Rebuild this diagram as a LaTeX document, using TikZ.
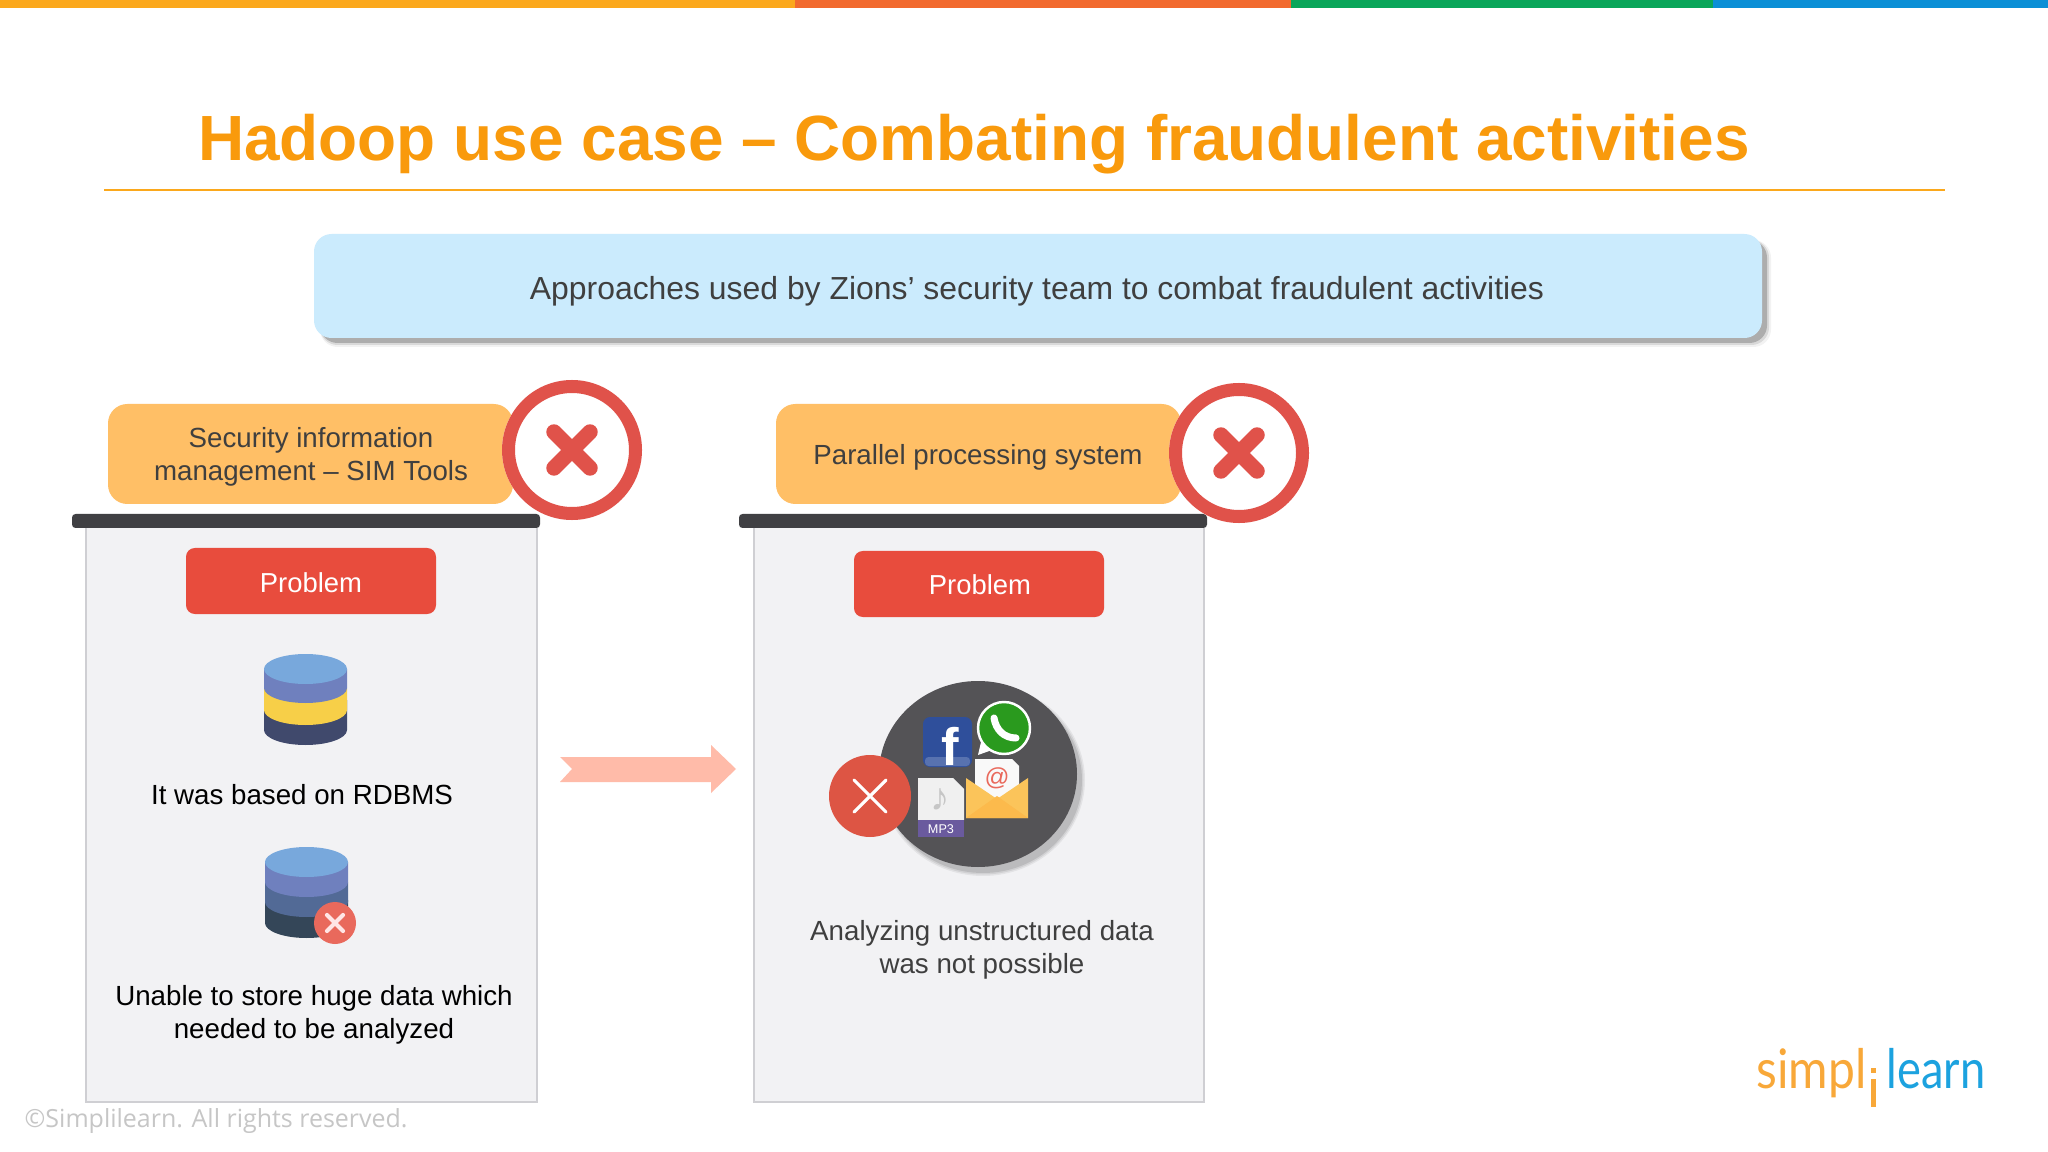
\documentclass[tikz,border=0pt]{standalone}
\usepackage{fontspec}
\setmainfont{Liberation Sans}
\newfontfamily\logofont{Lato}
\newfontfamily\copyfont{Open Sans}
\usetikzlibrary{positioning}
\definecolor{barorange}{HTML}{FBA81C}
\definecolor{bardeep}{HTML}{F26A2E}
\definecolor{bargreen}{HTML}{0AA65A}
\definecolor{barblue}{HTML}{0B8FD6}
\definecolor{titleorange}{HTML}{F99A0C}
\definecolor{skybox}{HTML}{CBEBFD}
\definecolor{tabbox}{HTML}{FFBF66}
\definecolor{crossred}{HTML}{E0524A}
\definecolor{problemred}{HTML}{E84C3D}
\definecolor{panelgray}{HTML}{F2F2F4}
\definecolor{panelline}{HTML}{CFCFD3}
\definecolor{shelfdark}{HTML}{404043}
\definecolor{textdark}{HTML}{3F3F3F}
\definecolor{arrowsalmon}{HTML}{FFBBA9}
\definecolor{dbtop}{HTML}{78A8DC}
\definecolor{dbmid}{HTML}{6F80BE}
\definecolor{dbyellow}{HTML}{F7CF48}
\definecolor{dbdark}{HTML}{40496C}
\definecolor{dbmidb}{HTML}{526A96}
\definecolor{dbdarkb}{HTML}{344658}
\definecolor{badgered}{HTML}{E9695C}
\definecolor{hubred}{HTML}{DD5544}
\definecolor{hubgray}{HTML}{545356}
\definecolor{fbblue}{HTML}{2F4F9B}
\definecolor{wagreen}{HTML}{2A9A1E}
\definecolor{mailyellow}{HTML}{FBC45A}
\definecolor{mp3purple}{HTML}{6A5A9E}
\definecolor{logoblue}{HTML}{1CA2DF}
\definecolor{logoorange}{HTML}{F8A839}
\tikzset{
    tabbody/.style={fill=tabbox, rounded corners=5.5pt},
    tabtext/.style={align=center, text=textdark, font=\fontsize{7.87}{9.3}\selectfont},
    problembody/.style={fill=problemred, rounded corners=2.5pt},
    problemtext/.style={text=white, font=\fontsize{7.8}{9.3}\selectfont},
    bodytext/.style={align=center, font=\fontsize{7.88}{9.4}\selectfont}
}
\newcommand{\crossring}[2]{
    \fill[white] (#1,#2) circle (70);
    \draw[crossred, line width=3.7pt] (#1,#2) circle (63.5);
    \draw[crossred, line width=4.4pt, line cap=round] (#1-18,#2-18) to (#1+18,#2+18) (#1-18,#2+18) to (#1+18,#2-18);
}
\begin{document}
\begin{tikzpicture}[x=0.01cm, y=-0.01cm]
    \useasboundingbox (0,0) rectangle (2048,1152);
    \fill[white] (0,0) rectangle (2048,1152);
    % top stripe
    \fill[barorange] (0,0) rectangle (795,8);
    \fill[bardeep] (795,0) rectangle (1291,8);
    \fill[bargreen] (1291,0) rectangle (1713,8);
    \fill[barblue] (1713,0) rectangle (2048,8);
    % title
    \node[text=titleorange, font=\fontsize{18.17}{22}\bfseries\selectfont] (title) at (974,144) {Hadoop use case -- Combating fraudulent activities};
    \draw[barorange, line width=0.5pt] (104,190) to (1945,190);
    % approaches box
    \foreach \d/\o in {9/0.05, 7/0.10, 5/0.20} {
        \fill[black, opacity=\o, rounded corners=5pt] (320,240) rectangle (1762+\d,338+\d);
    }
    \fill[skybox, rounded corners=5pt] (314,234) rectangle (1762,338);
    \node[text=textdark, font=\fontsize{9.07}{11}\selectfont] (approach) at (1037,291) {Approaches used by Zions’ security team to combat fraudulent activities};
    % left panel
    \fill[panelgray] (86,528) rectangle (537,1102);
    \draw[panelline, line width=0.6pt] (86,528) to (86,1102) to (537,1102) to (537,528);
    \fill[shelfdark, rounded corners=1pt] (72,514) rectangle (540,528);
    \fill[tabbody] (108,404) rectangle (513,504);
    \node[tabtext] (simtab) at (311,457) {Security information\\management -- SIM Tools};
    \crossring{572}{450}
    \fill[problembody] (186,548) rectangle (436,614);
    \node[problemtext] (problemleft) at (311,583) {Problem};
    \node[bodytext, text=black] (rdbms) at (302,795) {It was based on RDBMS};
    \node[bodytext, text=black] (unable) at (314,1015) {Unable to store huge data which\\needed to be analyzed};
    % right panel
    \fill[panelgray] (754,528) rectangle (1204,1102);
    \draw[panelline, line width=0.6pt] (754,528) to (754,1102) to (1204,1102) to (1204,528);
    \fill[shelfdark, rounded corners=1pt] (739,514) rectangle (1207,528);
    \fill[tabbody] (776,404) rectangle (1181,504);
    \node[tabtext] (paralleltab) at (978,457) {Parallel processing system};
    \crossring{1239}{453}
    \fill[problembody] (854,551) rectangle (1104,617);
    \node[problemtext] (problemright) at (980,585) {Problem};
    \node[bodytext, text=textdark] (analyzing) at (982,950) {Analyzing unstructured data\\was not possible};
    % arrow
    \fill[arrowsalmon] (560,757) -- (711,757) -- (711,745) -- (736,769) -- (711,793) -- (711,782) -- (560,782) -- (572,769) -- cycle;
    % first cylinder
    \fill[dbdark] (264,730) arc(180:0:41.5 and 15) -- (347,700) -- (264,700) -- cycle;
    \fill[dbyellow] (264,710) arc(180:0:41.5 and 15) -- (347,688) -- (264,688) -- cycle;
    \fill[dbmid] (264,688) arc(180:0:41.5 and 15) -- (347,669) -- (264,669) -- cycle;
    \fill[dbtop] (305.5,669) ellipse (41.5 and 15);
    % second cylinder
    \fill[dbdarkb] (265,923) arc(180:0:41.5 and 15) -- (348,900) -- (265,900) -- cycle;
    \fill[dbmidb] (265,902) arc(180:0:41.5 and 15) -- (348,882) -- (265,882) -- cycle;
    \fill[dbmid] (265,882) arc(180:0:41.5 and 15) -- (348,862) -- (265,862) -- cycle;
    \fill[dbtop] (306.5,862) ellipse (41.5 and 15);
    \fill[badgered] (335,923) circle (21);
    \draw[white!90!red, line width=1.2pt, line cap=round] (327,915) to (343,931) (327,931) to (343,915);
    % unstructured data hub
    \foreach \r/\o in {3/0.06, 1.5/0.08, 0/0.10} {
        \fill[black, opacity=\o] (983,780) ellipse ({99+\r} and {93+\r});
    }
    \fill[hubgray] (978,774) ellipse (99 and 93);
    \fill[fbblue, rounded corners=2pt] (923,717) rectangle (972,767);
    \fill[fbblue!80!white, rounded corners=1pt] (925,757) rectangle (970,766);
    \node[text=white, inner sep=0pt, font=\fontsize{15}{15}\bfseries\selectfont] (fbmark) at (950,746) {f};
    \fill[white] (978,755) -- (982,738) -- (992,750) -- cycle;
    \fill[wagreen, draw=white, line width=0.7pt] (1004,728) circle (26);
    \draw[white, line width=2pt, line cap=round] (994,718) .. controls (996,730) and (1004,738) .. (1016,738);
    \fill[white!95!gray] (975,759) -- (1012,759) -- (1019,766) -- (1019,798) -- (975,798) -- cycle;
    \node[text=badgered, inner sep=0pt, font=\fontsize{7}{7}\selectfont] (atmark) at (997,778) {@};
    \fill[mailyellow] (966,778) -- (997,799) -- (1028,778) -- (1028,818) -- (966,818) -- cycle;
    \fill[mailyellow!85!orange] (966,818) -- (997,796) -- (1028,818) -- cycle;
    \fill[white!88!gray] (918,778) -- (953,778) -- (964,789) -- (964,820) -- (918,820) -- cycle;
    \fill[mp3purple] (918,820) rectangle (964,837);
    \node[text=white, inner sep=0pt, font=\fontsize{3.6}{4}\selectfont] (mptext) at (941,829) {MP3};
    \node[text=gray!45, inner sep=0pt, font=\fontsize{11}{11}\selectfont] (notemark) at (940,800) {\char"266A};
    \fill[hubred] (870,796) circle (41);
    \draw[white, line width=0.9pt, line cap=round] (854,780) to (886,812) (854,812) to (886,780);
    % footer
    \node[text=gray!45, anchor=west, inner sep=0pt, font=\copyfont\fontsize{7.1}{9}\selectfont] (copyright) at (24,1121) {©Simplilearn. All rights reserved.};
    \node[text=logoorange, anchor=base east, inner sep=0pt, xscale=0.88, transform shape, font=\logofont\fontsize{15.5}{16}\selectfont] (logosimpl) at (1867,1088) {simpl};
    \node[text=logoblue, anchor=base west, inner sep=0pt, xscale=0.83, transform shape, font=\logofont\fontsize{15.5}{16}\selectfont] (logolearn) at (1886,1088) {learn};
    \fill[logoorange] (1871,1068) rectangle (1876,1073);
    \fill[logoorange] (1871,1079) rectangle (1876,1107);
\end{tikzpicture}
\end{document}
